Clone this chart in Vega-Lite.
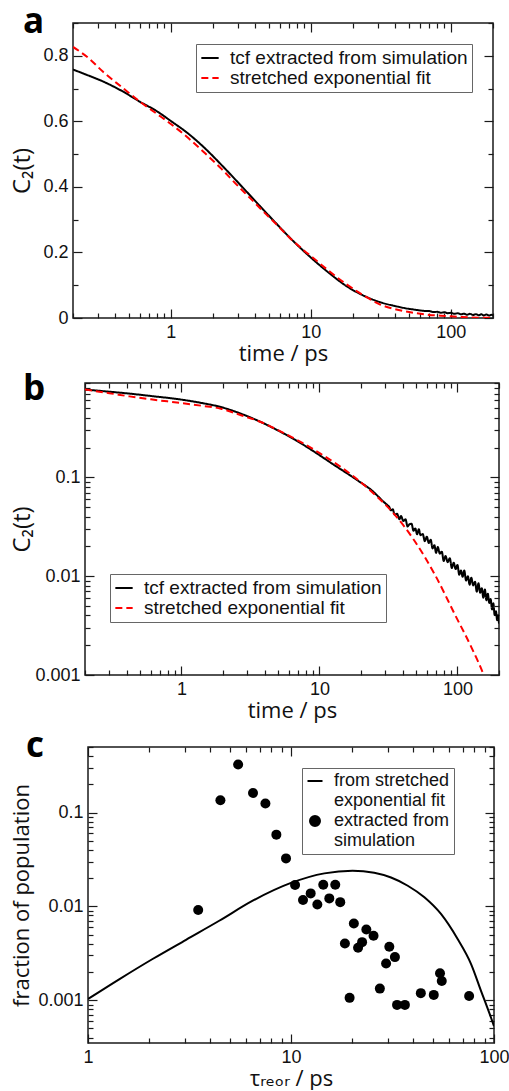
{
  "$schema": "https://vega.github.io/schema/vega-lite/v6.json",
  "background": "white",
  "padding": {"left": 3, "top": 4, "right": 12, "bottom": 0},
  "columns": 1,
  "align": "none",
  "bounds": "full",
  "spacing": 6,
  "resolve": {
    "scale": {"color": "independent", "strokeDash": "independent", "shape": "independent", "size": "independent"},
    "legend": {"color": "independent", "strokeDash": "independent", "shape": "independent", "size": "independent"}
  },
  "datasets": {
    "spacer": [{"k": 0}],
    "a_tcf": [
      {"t": 0.2, "c": 0.758}, {"t": 0.25, "c": 0.742}, {"t": 0.33, "c": 0.721}, {"t": 0.45, "c": 0.692}, {"t": 0.6, "c": 0.66}, {"t": 0.8, "c": 0.63}, {"t": 1.0, "c": 0.601}, {"t": 1.3, "c": 0.566}, {"t": 1.7, "c": 0.523}, {"t": 2.36, "c": 0.462}, {"t": 3.28, "c": 0.397}, {"t": 4.56, "c": 0.331}, {"t": 6.0, "c": 0.277}, {"t": 7.08, "c": 0.245}, {"t": 8.5, "c": 0.212}, {"t": 10.4, "c": 0.178}, {"t": 13.7, "c": 0.135}, {"t": 18, "c": 0.097}, {"t": 23.6, "c": 0.069}, {"t": 31, "c": 0.0487}, {"t": 40.9, "c": 0.0355}, {"t": 50, "c": 0.028}, {"t": 55, "c": 0.0255}, {"t": 60, "c": 0.0232}, {"t": 65, "c": 0.0215}, {"t": 70, "c": 0.0212}, {"t": 75, "c": 0.0182}, {"t": 80, "c": 0.0188}, {"t": 85, "c": 0.016}, {"t": 90, "c": 0.0176}, {"t": 95, "c": 0.0146}, {"t": 100, "c": 0.0157}, {"t": 106, "c": 0.0128}, {"t": 112, "c": 0.0146}, {"t": 118, "c": 0.0114}, {"t": 124, "c": 0.0132}, {"t": 130, "c": 0.0099}, {"t": 137, "c": 0.0126}, {"t": 144, "c": 0.0094}, {"t": 151, "c": 0.0117}, {"t": 158, "c": 0.0084}, {"t": 165, "c": 0.0112}, {"t": 172, "c": 0.0079}, {"t": 180, "c": 0.0106}, {"t": 188, "c": 0.0074}, {"t": 195, "c": 0.0096}, {"t": 200, "c": 0.0082}
    ],
    "a_fit": [
      {"t": 0.2, "c": 0.827}, {"t": 0.26, "c": 0.792}, {"t": 0.328, "c": 0.751}, {"t": 0.45, "c": 0.703}, {"t": 0.601, "c": 0.66}, {"t": 0.8, "c": 0.622}, {"t": 1.0, "c": 0.592}, {"t": 1.3, "c": 0.553}, {"t": 1.7, "c": 0.508}, {"t": 2.3, "c": 0.455}, {"t": 2.95, "c": 0.407}, {"t": 3.7, "c": 0.365}, {"t": 4.56, "c": 0.3255}, {"t": 5.7, "c": 0.285}, {"t": 7.08, "c": 0.244}, {"t": 8.6, "c": 0.212}, {"t": 10.4, "c": 0.183}, {"t": 13.7, "c": 0.141}, {"t": 18, "c": 0.1025}, {"t": 24, "c": 0.068}, {"t": 31, "c": 0.0416}, {"t": 40, "c": 0.027}, {"t": 54, "c": 0.016}, {"t": 70, "c": 0.0095}, {"t": 93, "c": 0.006}, {"t": 120, "c": 0.003}, {"t": 161, "c": 0.001}, {"t": 200, "c": 0.0005}
    ],
    "b_tcf": [
      {"t": 0.2, "c": 0.772}, {"t": 0.3, "c": 0.735}, {"t": 0.42, "c": 0.703}, {"t": 0.6, "c": 0.665}, {"t": 1.0, "c": 0.611}, {"t": 1.4, "c": 0.565}, {"t": 1.93, "c": 0.514}, {"t": 2.7, "c": 0.44}, {"t": 3.79, "c": 0.361}, {"t": 5, "c": 0.298}, {"t": 6.65, "c": 0.24}, {"t": 9.31, "c": 0.179}, {"t": 12.4, "c": 0.137}, {"t": 18.8, "c": 0.0935}, {"t": 24, "c": 0.0735}, {"t": 29.4, "c": 0.056},
      {"t": 31, "c": 0.0525}, {"t": 32, "c": 0.0504}, {"t": 33, "c": 0.0463}, {"t": 34, "c": 0.0475}, {"t": 35, "c": 0.0419}, {"t": 36.5, "c": 0.0428}, {"t": 38, "c": 0.0377}, {"t": 39, "c": 0.0406}, {"t": 40.5, "c": 0.0362}, {"t": 42, "c": 0.0377}, {"t": 43.5, "c": 0.0318}, {"t": 45, "c": 0.0336}, {"t": 46.5, "c": 0.0339}, {"t": 48, "c": 0.0288}, {"t": 49.5, "c": 0.0304}, {"t": 51, "c": 0.0265}, {"t": 52.5, "c": 0.0298}, {"t": 54, "c": 0.026}, {"t": 56, "c": 0.0267}, {"t": 58, "c": 0.0226}, {"t": 60, "c": 0.0251}, {"t": 62, "c": 0.0216}, {"t": 64, "c": 0.0234}, {"t": 66, "c": 0.0191}, {"t": 68, "c": 0.0206}, {"t": 70, "c": 0.0172}, {"t": 72, "c": 0.0197}, {"t": 74.5, "c": 0.0169}, {"t": 77, "c": 0.0177}, {"t": 79.5, "c": 0.01426}, {"t": 82, "c": 0.016}, {"t": 85, "c": 0.01384}, {"t": 88, "c": 0.0152}, {"t": 91, "c": 0.0121}, {"t": 94, "c": 0.01365}, {"t": 97, "c": 0.0118}, {"t": 100, "c": 0.013}, {"t": 103, "c": 0.01033}, {"t": 106, "c": 0.01143}, {"t": 109, "c": 0.00984}, {"t": 112, "c": 0.0114}, {"t": 115.5, "c": 0.00902}, {"t": 119, "c": 0.00998}, {"t": 122.5, "c": 0.0082}, {"t": 126, "c": 0.00962}, {"t": 130, "c": 0.00805}, {"t": 134, "c": 0.00879}, {"t": 138, "c": 0.00697}, {"t": 142, "c": 0.00847}, {"t": 146, "c": 0.00681}, {"t": 150, "c": 0.00755}, {"t": 154, "c": 0.00604}, {"t": 158, "c": 0.00735}, {"t": 162, "c": 0.0057}, {"t": 166, "c": 0.00665}, {"t": 170, "c": 0.00536}, {"t": 174, "c": 0.00587}, {"t": 178, "c": 0.0046}, {"t": 182, "c": 0.00531}, {"t": 186, "c": 0.00404}, {"t": 190, "c": 0.00442}, {"t": 194, "c": 0.00358}, {"t": 197, "c": 0.00402}, {"t": 200, "c": 0.00331}
    ],
    "b_fit": [
      {"t": 0.2, "c": 0.772}, {"t": 0.3, "c": 0.71}, {"t": 0.42, "c": 0.659}, {"t": 0.6, "c": 0.615}, {"t": 1.0, "c": 0.564}, {"t": 1.4, "c": 0.53}, {"t": 1.93, "c": 0.495}, {"t": 2.7, "c": 0.425}, {"t": 3.79, "c": 0.361}, {"t": 5, "c": 0.3}, {"t": 6.65, "c": 0.245}, {"t": 10.7, "c": 0.166}, {"t": 18, "c": 0.1}, {"t": 24.9, "c": 0.0678}, {"t": 34.8, "c": 0.0425}, {"t": 48.8, "c": 0.0228}, {"t": 68.4, "c": 0.01045}, {"t": 95.9, "c": 0.00408}, {"t": 127, "c": 0.00187}, {"t": 157, "c": 0.00095}, {"t": 175, "c": 0.0006}
    ],
    "c_curve": [
      {"tau": 1.0, "f": 0.00103}, {"tau": 1.43, "f": 0.00168}, {"tau": 2.08, "f": 0.00275}, {"tau": 3.04, "f": 0.00441}, {"tau": 4.43, "f": 0.00703}, {"tau": 6.48, "f": 0.0115}, {"tau": 10, "f": 0.0178}, {"tau": 14.6, "f": 0.0225}, {"tau": 20.1, "f": 0.024}, {"tau": 25.7, "f": 0.0228}, {"tau": 31.1, "f": 0.0203}, {"tau": 37.6, "f": 0.0166}, {"tau": 45.4, "f": 0.0125}, {"tau": 54.8, "f": 0.0083}, {"tau": 66.2, "f": 0.00449}, {"tau": 77.1, "f": 0.00243}, {"tau": 86.3, "f": 0.00126}, {"tau": 96.7, "f": 0.00065}, {"tau": 100, "f": 0.00053}
    ],
    "c_points": [
      {"tau": 3.49, "f": 0.00914}, {"tau": 4.49, "f": 0.1355}, {"tau": 5.49, "f": 0.325}, {"tau": 6.5, "f": 0.162}, {"tau": 7.48, "f": 0.1248}, {"tau": 8.47, "f": 0.0582}, {"tau": 9.45, "f": 0.0325}, {"tau": 10.47, "f": 0.0169}, {"tau": 11.46, "f": 0.01168}, {"tau": 12.5, "f": 0.01376}, {"tau": 13.48, "f": 0.0105}, {"tau": 14.42, "f": 0.017}, {"tau": 15.44, "f": 0.01217}, {"tau": 16.52, "f": 0.017}, {"tau": 17.48, "f": 0.0111}, {"tau": 18.43, "f": 0.00403}, {"tau": 19.44, "f": 0.00106}, {"tau": 20.4, "f": 0.00658}, {"tau": 21.4, "f": 0.00362}, {"tau": 22.4, "f": 0.00416}, {"tau": 23.5, "f": 0.00568}, {"tau": 25.5, "f": 0.00486}, {"tau": 27.4, "f": 0.00133}, {"tau": 29.4, "f": 0.00246}, {"tau": 30.5, "f": 0.00371}, {"tau": 32.5, "f": 0.00288}, {"tau": 33.3, "f": 0.000892}, {"tau": 36.4, "f": 0.000892}, {"tau": 43.6, "f": 0.00119}, {"tau": 50.5, "f": 0.00114}, {"tau": 54.2, "f": 0.00194}, {"tau": 55.3, "f": 0.0016}, {"tau": 75.4, "f": 0.00111}
    ]
  },
  "concat": [
    {
      "spacing": 0,
      "hconcat": [
        {"width": 1, "height": 1, "view": {"stroke": null}, "data": {"name": "spacer"}, "mark": {"type": "point", "opacity": 0}, "encoding": {}},
        {
          "width": 420,
          "height": 295,
          "title": {"text": "a", "dx": -50, "dy": 22},
          "resolve": {"axis": {"x": "independent", "y": "independent"}},
          "layer": [
            {
              "data": {"name": "a_tcf"},
              "transform": [{"calculate": "'tcf extracted from simulation'", "as": "series"}],
              "mark": {"type": "line", "strokeWidth": 2, "clip": true, "interpolate": "monotone"},
              "encoding": {
                "x": {"field": "t", "type": "quantitative", "scale": {"type": "log", "domain": [0.2, 200], "nice": false},
                  "axis": {"orient": "bottom", "title": "time / ps", "values": [1, 10, 100], "format": "~g", "tickSize": -9, "labelPadding": 14, "titlePadding": 2}},
                "y": {"field": "c", "type": "quantitative", "scale": {"domain": [0, 0.9], "nice": false, "zero": false},
                  "axis": {"orient": "left", "title": "C₂(t)", "titleFontSize": 24, "values": [0, 0.2, 0.4, 0.6, 0.8], "format": "~g", "tickSize": -9, "labelPadding": 14, "titlePadding": 8}},
                "color": {"field": "series", "type": "nominal", "scale": {"domain": ["tcf extracted from simulation", "stretched exponential fit"], "range": ["#000000", "#ff0000"]},
                  "legend": {"title": null, "orient": "none", "legendX": 190, "legendY": 21, "symbolType": "stroke", "symbolSize": 300}},
                "strokeDash": {"field": "series", "type": "nominal", "scale": {"domain": ["tcf extracted from simulation", "stretched exponential fit"], "range": [[1, 0], [7, 4]]},
                  "legend": {"title": null, "orient": "none", "legendX": 190, "legendY": 21, "symbolType": "stroke", "symbolSize": 300}}
              }
            },
            {
              "data": {"name": "a_fit"},
              "transform": [{"calculate": "'stretched exponential fit'", "as": "series"}],
              "mark": {"type": "line", "strokeWidth": 2, "clip": true, "interpolate": "monotone"},
              "encoding": {
                "x": {"field": "t", "type": "quantitative", "axis": {"orient": "top", "title": null, "labels": false, "values": [1, 10, 100], "tickSize": -9, "labelPadding": 0}},
                "y": {"field": "c", "type": "quantitative", "axis": {"orient": "right", "title": null, "labels": false, "values": [0, 0.2, 0.4, 0.6, 0.8], "tickSize": -9, "labelPadding": 0}},
                "color": {"field": "series", "type": "nominal"},
                "strokeDash": {"field": "series", "type": "nominal"}
              }
            },
            {
              "data": {"name": "a_fit"},
              "mark": {"type": "line", "opacity": 0},
              "encoding": {
                "x": {"field": "t", "type": "quantitative", "axis": {"orient": "bottom", "title": null, "labels": false, "values": [0.2,0.3,0.4,0.5,0.6,0.7,0.8,0.9,2,3,4,5,6,7,8,9,20,30,40,50,60,70,80,90,200], "tickSize": -5, "labelPadding": 0}},
                "y": {"field": "c", "type": "quantitative", "axis": {"orient": "left", "title": null, "labels": false, "values": [0.1, 0.3, 0.5, 0.7, 0.9], "tickSize": -5, "labelPadding": 0}}
              }
            },
            {
              "data": {"name": "a_fit"},
              "mark": {"type": "line", "opacity": 0},
              "encoding": {
                "x": {"field": "t", "type": "quantitative", "axis": {"orient": "top", "title": null, "labels": false, "values": [0.2,0.3,0.4,0.5,0.6,0.7,0.8,0.9,2,3,4,5,6,7,8,9,20,30,40,50,60,70,80,90,200], "tickSize": -5, "labelPadding": 0}},
                "y": {"field": "c", "type": "quantitative", "axis": {"orient": "right", "title": null, "labels": false, "values": [0.1, 0.3, 0.5, 0.7, 0.9], "tickSize": -5, "labelPadding": 0}}
              }
            }
          ]
        }
      ]
    },
    {
      "spacing": 0,
      "hconcat": [
        {"width": 1, "height": 1, "view": {"stroke": null}, "data": {"name": "spacer"}, "mark": {"type": "point", "opacity": 0}, "encoding": {}},
        {
          "width": 414,
          "height": 292,
          "title": {"text": "b", "dx": -62, "dy": 29},
          "resolve": {"axis": {"x": "independent", "y": "independent"}},
          "layer": [
            {
              "data": {"name": "b_tcf"},
              "transform": [{"calculate": "'tcf extracted from simulation'", "as": "series"}],
              "mark": {"type": "line", "strokeWidth": 2, "clip": true, "interpolate": "monotone"},
              "encoding": {
                "x": {"field": "t", "type": "quantitative", "scale": {"type": "log", "domain": [0.2, 200], "nice": false},
                  "axis": {"orient": "bottom", "title": "time / ps", "values": [1, 10, 100], "format": "~g", "tickSize": -9, "labelPadding": 14, "titlePadding": 2}},
                "y": {"field": "c", "type": "quantitative", "scale": {"type": "log", "domain": [0.001, 0.9], "nice": false},
                  "axis": {"orient": "left", "title": "C₂(t)", "titleFontSize": 24, "values": [0.001, 0.01, 0.1], "format": "~g", "tickSize": -9, "labelPadding": 14, "titlePadding": 0}},
                "color": {"field": "series", "type": "nominal", "scale": {"domain": ["tcf extracted from simulation", "stretched exponential fit"], "range": ["#000000", "#ff0000"]},
                  "legend": {"title": null, "orient": "none", "legendX": 104, "legendY": 191, "symbolType": "stroke", "symbolSize": 300}},
                "strokeDash": {"field": "series", "type": "nominal", "scale": {"domain": ["tcf extracted from simulation", "stretched exponential fit"], "range": [[1, 0], [7, 4]]},
                  "legend": {"title": null, "orient": "none", "legendX": 104, "legendY": 191, "symbolType": "stroke", "symbolSize": 300}}
              }
            },
            {
              "data": {"name": "b_fit"},
              "transform": [{"calculate": "'stretched exponential fit'", "as": "series"}],
              "mark": {"type": "line", "strokeWidth": 2, "clip": true, "interpolate": "monotone"},
              "encoding": {
                "x": {"field": "t", "type": "quantitative", "axis": {"orient": "top", "title": null, "labels": false, "values": [1, 10, 100], "tickSize": -9, "labelPadding": 0}},
                "y": {"field": "c", "type": "quantitative", "axis": {"orient": "right", "title": null, "labels": false, "values": [0.001, 0.01, 0.1], "tickSize": -9, "labelPadding": 0}},
                "color": {"field": "series", "type": "nominal"},
                "strokeDash": {"field": "series", "type": "nominal"}
              }
            },
            {
              "data": {"name": "b_fit"},
              "mark": {"type": "line", "opacity": 0, "clip": true},
              "encoding": {
                "x": {"field": "t", "type": "quantitative", "axis": {"orient": "bottom", "title": null, "labels": false, "values": [0.2,0.3,0.4,0.5,0.6,0.7,0.8,0.9,2,3,4,5,6,7,8,9,20,30,40,50,60,70,80,90,200], "tickSize": -5, "labelPadding": 0}},
                "y": {"field": "c", "type": "quantitative", "axis": {"orient": "left", "title": null, "labels": false, "values": [0.002,0.003,0.004,0.005,0.006,0.007,0.008,0.009,0.02,0.03,0.04,0.05,0.06,0.07,0.08,0.09,0.2,0.3,0.4,0.5,0.6,0.7,0.8,0.9], "tickSize": -5, "labelPadding": 0}}
              }
            },
            {
              "data": {"name": "b_fit"},
              "mark": {"type": "line", "opacity": 0, "clip": true},
              "encoding": {
                "x": {"field": "t", "type": "quantitative", "axis": {"orient": "top", "title": null, "labels": false, "values": [0.2,0.3,0.4,0.5,0.6,0.7,0.8,0.9,2,3,4,5,6,7,8,9,20,30,40,50,60,70,80,90,200], "tickSize": -5, "labelPadding": 0}},
                "y": {"field": "c", "type": "quantitative", "axis": {"orient": "right", "title": null, "labels": false, "values": [0.002,0.003,0.004,0.005,0.006,0.007,0.008,0.009,0.02,0.03,0.04,0.05,0.06,0.07,0.08,0.09,0.2,0.3,0.4,0.5,0.6,0.7,0.8,0.9], "tickSize": -5, "labelPadding": 0}}
              }
            }
          ]
        }
      ]
    },
    {
      "spacing": 0,
      "hconcat": [
        {"width": 1, "height": 1, "view": {"stroke": null}, "data": {"name": "spacer"}, "mark": {"type": "point", "opacity": 0}, "encoding": {}},
        {
          "width": 406,
          "height": 296,
          "title": {"text": "c", "dx": -62, "dy": 22},
          "resolve": {"axis": {"x": "independent", "y": "independent"}},
          "layer": [
            {
              "data": {"name": "c_curve"},
              "transform": [{"calculate": "'from stretched|exponential fit'", "as": "series"}],
              "mark": {"type": "line", "strokeWidth": 2, "clip": true, "interpolate": "monotone"},
              "encoding": {
                "x": {"field": "tau", "type": "quantitative", "scale": {"type": "log", "domain": [1, 100], "nice": false},
                  "axis": {"orient": "bottom", "title": "τᵣₑₒᵣ / ps", "values": [1, 10, 100], "format": "~g", "tickSize": -9, "labelPadding": 14, "titlePadding": 2}},
                "y": {"field": "f", "type": "quantitative", "scale": {"type": "log", "domain": [0.00035, 0.5], "nice": false},
                  "axis": {"orient": "left", "title": "fraction of population", "values": [0.001, 0.01, 0.1], "format": "~g", "tickSize": -9, "labelPadding": 14, "titlePadding": 4}},
                "color": {"field": "series", "type": "nominal", "scale": {"domain": ["from stretched|exponential fit", "extracted from|simulation"], "range": ["#000000", "#000000"]},
                  "legend": {"title": null, "orient": "none", "legendX": 296, "legendY": 21, "labelExpr": "split(datum.label, '|')", "labelFontSize": 18, "symbolStrokeColor": "#000000", "rowPadding": 2}}
              }
            },
            {
              "data": {"name": "c_points"},
              "transform": [{"calculate": "'extracted from|simulation'", "as": "series"}],
              "mark": {"type": "point", "filled": true, "opacity": 1},
              "encoding": {
                "x": {"field": "tau", "type": "quantitative", "axis": {"orient": "top", "title": null, "labels": false, "values": [1, 10, 100], "tickSize": -9, "labelPadding": 0}},
                "y": {"field": "f", "type": "quantitative", "axis": {"orient": "right", "title": null, "labels": false, "values": [0.001, 0.01, 0.1], "tickSize": -9, "labelPadding": 0}},
                "color": {"field": "series", "type": "nominal"},
                "shape": {"field": "series", "type": "nominal", "scale": {"domain": ["from stretched|exponential fit", "extracted from|simulation"], "range": ["stroke", "circle"]}},
                "size": {"field": "series", "type": "nominal", "scale": {"domain": ["from stretched|exponential fit", "extracted from|simulation"], "range": [225, 100]}}
              }
            },
            {
              "data": {"name": "c_curve"},
              "mark": {"type": "line", "opacity": 0},
              "encoding": {
                "x": {"field": "tau", "type": "quantitative", "axis": {"orient": "bottom", "title": null, "labels": false, "values": [2,3,4,5,6,7,8,9,20,30,40,50,60,70,80,90], "tickSize": -5, "labelPadding": 0}},
                "y": {"field": "f", "type": "quantitative", "axis": {"orient": "left", "title": null, "labels": false, "values": [0.0004,0.0005,0.0006,0.0007,0.0008,0.0009,0.002,0.003,0.004,0.005,0.006,0.007,0.008,0.009,0.02,0.03,0.04,0.05,0.06,0.07,0.08,0.09,0.2,0.3,0.4,0.5], "tickSize": -5, "labelPadding": 0}}
              }
            },
            {
              "data": {"name": "c_curve"},
              "mark": {"type": "line", "opacity": 0},
              "encoding": {
                "x": {"field": "tau", "type": "quantitative", "axis": {"orient": "top", "title": null, "labels": false, "values": [2,3,4,5,6,7,8,9,20,30,40,50,60,70,80,90], "tickSize": -5, "labelPadding": 0}},
                "y": {"field": "f", "type": "quantitative", "axis": {"orient": "right", "title": null, "labels": false, "values": [0.0004,0.0005,0.0006,0.0007,0.0008,0.0009,0.002,0.003,0.004,0.005,0.006,0.007,0.008,0.009,0.02,0.03,0.04,0.05,0.06,0.07,0.08,0.09,0.2,0.3,0.4,0.5], "tickSize": -5, "labelPadding": 0}}
              }
            }
          ]
        }
      ]
    }
  ],
  "config": {
    "view": {"stroke": "#1a1a1a", "strokeWidth": 1.5},
    "axis": {"domain": false, "grid": false, "labelFont": "Liberation Sans", "labelFontSize": 18, "labelColor": "#111111", "titleFont": "Open Sans, DejaVu Sans", "titleFontSize": 22, "titleFontWeight": "normal", "titleColor": "#111111", "tickColor": "#1a1a1a", "tickWidth": 1.2, "labelFlush": false, "labelOverlap": false},
    "legend": {"labelFont": "Liberation Sans", "labelFontSize": 19, "labelColor": "#111111", "strokeColor": "#666666", "fillColor": "white", "padding": 4, "symbolStrokeWidth": 2, "rowPadding": 0, "labelOffset": 10, "direction": "vertical", "labelLimit": 400},
    "title": {"font": "Open Sans", "fontSize": 35, "fontWeight": "bold", "anchor": "start", "frame": "group", "color": "#000000", "baseline": "alphabetic", "offset": 0}
  }
}
